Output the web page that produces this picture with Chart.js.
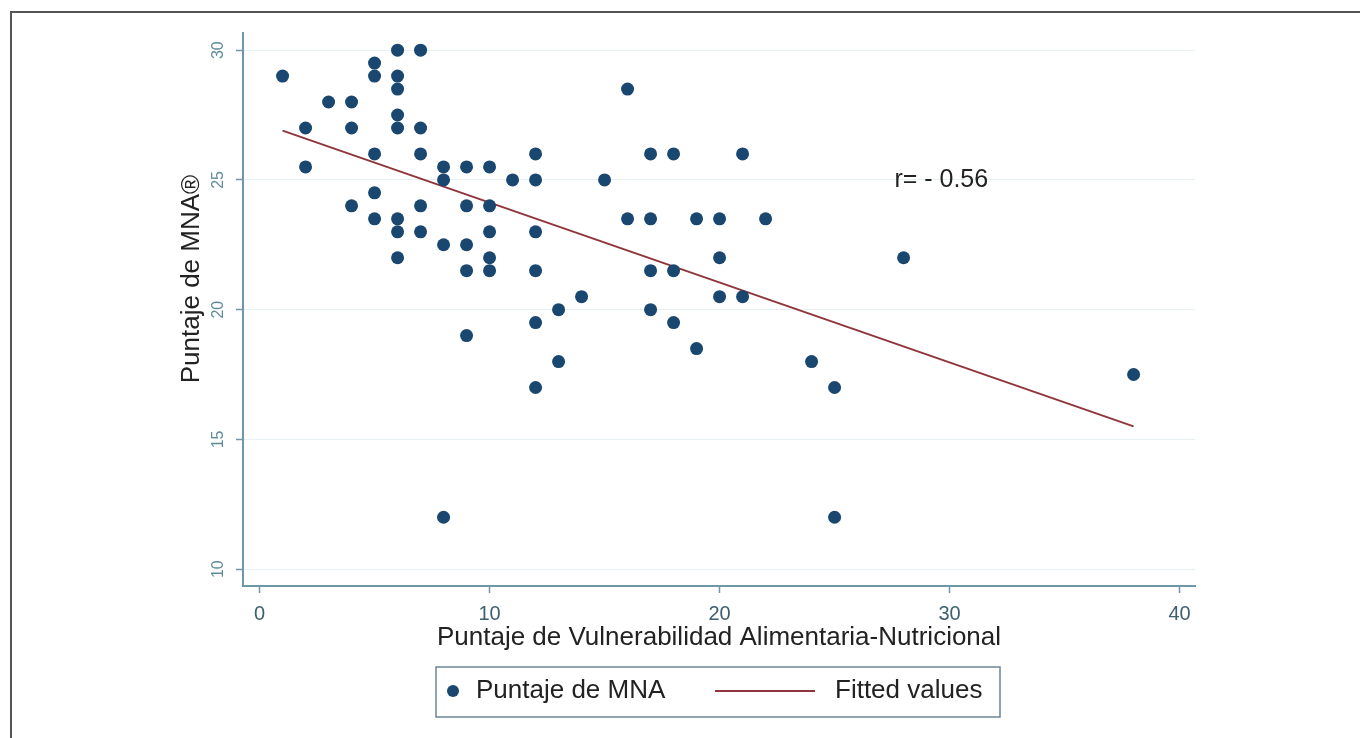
<!DOCTYPE html>
<html>
<head>
<meta charset="utf-8">
<title>Puntaje de MNA vs Vulnerabilidad</title>
<script src="https://cdn.jsdelivr.net/npm/chart.js@4.4.1/dist/chart.umd.min.js"></script>
<style>
    html, body { margin: 0; padding: 0; background: #fff; }
    #wrap { position: relative; width: 1360px; height: 738px; overflow: hidden; }
    #frame { position: absolute; left: 10px; top: 11px; width: 1400px; height: 800px;
             border-left: 2px solid #555; border-top: 2px solid #555; pointer-events: none; }
    canvas { position: absolute; left: 0; top: 0; }
</style>
</head>
<body>
<div id="wrap">
    <canvas id="mnaChart" width="1360" height="738"></canvas>
    <div id="frame"></div>
</div>
<script>
// 数据
const vulnerabilidad = [
    1, 2, 2, 3, 4, 4, 4,
    5, 5, 5, 5, 5,
    6, 6, 6, 6, 6, 6, 6, 6,
    7, 7, 7, 7, 7,
    8, 8, 8, 8,
    9, 9, 9, 9, 9,
    10, 10, 10, 10, 10,
    11,
    12, 12, 12, 12, 12, 12,
    13, 13, 14, 15, 16, 16,
    17, 17, 17, 17,
    18, 18, 18,
    19, 19,
    20, 20, 20,
    21, 21, 22, 24, 25, 25, 28, 38
];
const puntajeMNA = [
    29, 27, 25.5, 28, 28, 27, 24,
    29.5, 29, 26, 24.5, 23.5,
    30, 29, 28.5, 27.5, 27, 23.5, 23, 22,
    30, 27, 26, 24, 23,
    25.5, 25, 22.5, 12,
    25.5, 24, 22.5, 21.5, 19,
    25.5, 24, 23, 22, 21.5,
    25,
    26, 25, 23, 21.5, 19.5, 17,
    20, 18, 20.5, 25, 28.5, 23.5,
    26, 23.5, 21.5, 20,
    26, 21.5, 19.5,
    23.5, 18.5,
    23.5, 22, 20.5,
    26, 20.5, 23.5, 18, 17, 12, 22, 17.5
];
// 拟合线两端
const ajusteX = [1, 38];
const ajusteY = [26.9, 15.5];
// 刻度
const xTicks = [0, 10, 20, 30, 40];
const yTicks = [10, 15, 20, 25, 30];
const rTexto = 'r= - 0.56';
const rPos = [27.6, 25];

const FONT = "'Liberation Sans', Arial, sans-serif";
const axisColor = '#6f97aa';
const dotColor = '#1a476f';
const lineColor = '#90353b';

// 自定义图例、y 轴标题和 r 标注
const extrasPlugin = {
    id: 'extras',
    afterDraw(chart) {
        const ctx = chart.ctx;
        const xs = chart.scales.x, ys = chart.scales.y;
        ctx.save();

        // r 标注
        ctx.fillStyle = '#222';
        ctx.font = '25px ' + FONT;
        ctx.textAlign = 'left';
        ctx.textBaseline = 'middle';
        ctx.fillText(rTexto, xs.getPixelForValue(rPos[0]), ys.getPixelForValue(rPos[1]));

        // y 轴标题
        ctx.save();
        ctx.translate(192, 279);
        ctx.rotate(-Math.PI / 2);
        ctx.textAlign = 'center';
        ctx.font = '26px ' + FONT;
        ctx.fillText('Puntaje de MNA®', 0, 0);
        ctx.restore();

        // 图例
        const ds = chart.data.datasets;
        ctx.strokeStyle = '#6b8795';
        ctx.lineWidth = 1.5;
        ctx.strokeRect(436, 667, 564, 50);
        const cy = 691;
        ctx.fillStyle = ds[0].backgroundColor;
        ctx.beginPath();
        ctx.arc(453, cy, 6, 0, Math.PI * 2);
        ctx.fill();
        ctx.fillStyle = '#222';
        ctx.font = '26px ' + FONT;
        ctx.textAlign = 'left';
        ctx.fillText(ds[0].label, 476, cy);
        ctx.strokeStyle = ds[1].borderColor;
        ctx.lineWidth = 2;
        ctx.beginPath();
        ctx.moveTo(715, cy);
        ctx.lineTo(815, cy);
        ctx.stroke();
        ctx.fillText(ds[1].label, 835, cy);

        ctx.restore();
    }
};

const ctx = document.getElementById('mnaChart').getContext('2d');
const mnaChart = new Chart(ctx, {
    type: 'scatter',
    data: {
        datasets: [
            {
                label: 'Puntaje de MNA',
                data: vulnerabilidad.map((v, i) => ({ x: v, y: puntajeMNA[i] })),
                backgroundColor: dotColor,
                borderColor: dotColor,
                borderWidth: 0,
                pointRadius: 6.5
            },
            {
                label: 'Fitted values',
                type: 'line',
                data: ajusteX.map((v, i) => ({ x: v, y: ajusteY[i] })),
                borderColor: lineColor,
                borderWidth: 2,
                pointRadius: 0,
                fill: false
            }
        ]
    },
    options: {
        responsive: false,
        animation: false,
        devicePixelRatio: 1,
        layout: { padding: { left: 0, top: 33, right: 165, bottom: 0 } },
        plugins: {
            legend: { display: false },
            tooltip: { enabled: false }
        },
        scales: {
            x: {
                type: 'linear',
                min: -0.72,
                max: 40.67,
                afterBuildTicks: s => { s.ticks = xTicks.map(v => ({ value: v })); },
                afterFit: s => { s.height = 152; },
                ticks: { font: { family: FONT, size: 20 }, color: '#3d5f6f', padding: 9, maxRotation: 0 },
                grid: { drawOnChartArea: false, tickLength: 7, tickColor: axisColor, tickWidth: 1.5 },
                border: { color: axisColor, width: 2 },
                title: {
                    display: true,
                    text: 'Puntaje de Vulnerabilidad Alimentaria-Nutricional',
                    color: '#222',
                    font: { family: FONT, size: 26 },
                    padding: { top: 0, bottom: 85 }
                }
            },
            y: {
                type: 'linear',
                min: 9.35,
                max: 30.66,
                afterBuildTicks: s => { s.ticks = yTicks.map(v => ({ value: v })); },
                afterFit: s => { s.width = 243; },
                ticks: {
                    font: { family: FONT, size: 16 }, color: '#5f8b9b',
                    minRotation: 90, maxRotation: 90, crossAlign: 'center', padding: 9
                },
                grid: { color: '#e7f0f3', tickLength: 7, tickColor: axisColor, tickWidth: 1.5 },
                border: { color: axisColor, width: 2 }
            }
        }
    },
    plugins: [extrasPlugin]
});
</script>
</body>
</html>
